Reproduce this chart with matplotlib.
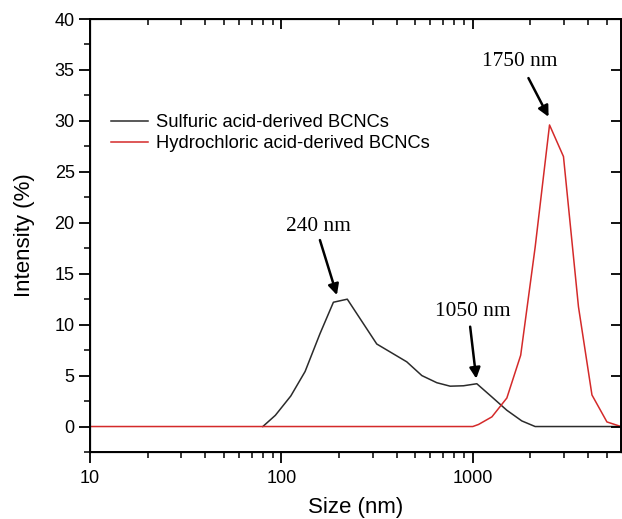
import matplotlib.pyplot as plt
import matplotlib.ticker as ticker
import numpy as np

# sulfuric acid-derived BCNCs (black)
sulf_size = [80, 93, 112, 133, 159, 187, 221, 315, 452, 542, 649, 762, 894, 1050,
             1259, 1506, 1804, 2118, 5950]
sulf_int = [0, 1.1, 3.0, 5.4, 9.1, 12.2, 12.5, 8.1, 6.35, 5.0, 4.3, 3.96, 4.0, 4.2,
            2.9, 1.6, 0.55, 0, 0]

# hydrochloric acid-derived BCNCs (red)
hcl_size = [10, 1000, 1071, 1259, 1507, 1780, 2118, 2518, 2978, 3567, 4195, 5024, 5950]
hcl_int = [0, 0, 0.2, 0.95, 2.8, 7.0, 17.6, 29.6, 26.5, 11.75, 3.1, 0.45, 0]

# peak labels: text, text position, arrow tail, arrow head
peak_labels = ["240 nm", "1050 nm", "1750 nm"]
label_pos = [(157, 19.6), (1000, 11.3), (1770, 35.8)]
arrow_tail = [(159, 18.3), (969, 9.8), (1954, 34.2)]
arrow_head = [(195, 12.9), (1043, 4.7), (2489, 30.4)]

plt.rcParams['font.family'] = ['Liberation Sans', 'DejaVu Sans']

fig = plt.figure(figsize=(6.22, 5.19), dpi=100)
ax = fig.add_axes([90 / 622, 67 / 519, 531 / 622, 433 / 519])

ax.plot(sulf_size, sulf_int, color='#2b2b2b', lw=1.1, label="Sulfuric acid-derived BCNCs")
ax.plot(hcl_size, hcl_int, color='#d42a2a', lw=1.1, label="Hydrochloric acid-derived BCNCs")

for txt, pos, tail, head in zip(peak_labels, label_pos, arrow_tail, arrow_head):
    ax.text(pos[0], pos[1], txt, ha='center', va='center', fontsize=15.4,
            family=['Liberation Serif', 'DejaVu Serif'])
    ax.annotate("", xy=head, xytext=tail,
                arrowprops=dict(arrowstyle='-|>', color='black', lw=1.8,
                                mutation_scale=16, shrinkA=0, shrinkB=0))

ax.set_xscale('log')
ax.set_xlim(10, 5950)
ax.set_ylim(-2.5, 40)
ax.xaxis.set_major_formatter(ticker.FuncFormatter(lambda v, p: f"{v:g}"))
ax.xaxis.set_minor_formatter(ticker.NullFormatter())
ax.yaxis.set_major_locator(ticker.MultipleLocator(5))
ax.yaxis.set_minor_locator(ticker.MultipleLocator(2.5))
ax.tick_params(which='major', direction='out', length=8, width=1.3, labelsize=13)
ax.tick_params(which='minor', direction='out', length=4, width=1.1)
ax.tick_params(axis='x', pad=5)
ax.tick_params(axis='y', pad=3)

for sp in ax.spines.values():
    sp.set_linewidth(1.4)

# mirrored ticks on top and right, pointing in
ax_top = ax.twiny()
ax_top.set_xscale('log')
ax_top.set_xlim(ax.get_xlim())
ax_top.tick_params(which='major', direction='in', length=7, width=1.3, labeltop=False)
ax_top.tick_params(which='minor', direction='in', length=4, width=1.1)
ax_top.xaxis.set_minor_formatter(ticker.NullFormatter())

ax_right = ax.twinx()
ax_right.set_ylim(ax.get_ylim())
ax_right.yaxis.set_major_locator(ticker.MultipleLocator(5))
ax_right.tick_params(direction='in', length=7, width=1.3, labelright=False)

ax.set_xlabel("Size (nm)", fontsize=16, labelpad=7)
ax.set_ylabel("Intensity (%)", fontsize=16, labelpad=14)

ax.legend(loc='center left', bbox_to_anchor=(0.0395, 0.736), frameon=False,
          fontsize=13.2, handlelength=2.0, handletextpad=0.45, labelspacing=0.2,
          borderpad=0, borderaxespad=0)

fig.savefig("out.png", dpi=100)
